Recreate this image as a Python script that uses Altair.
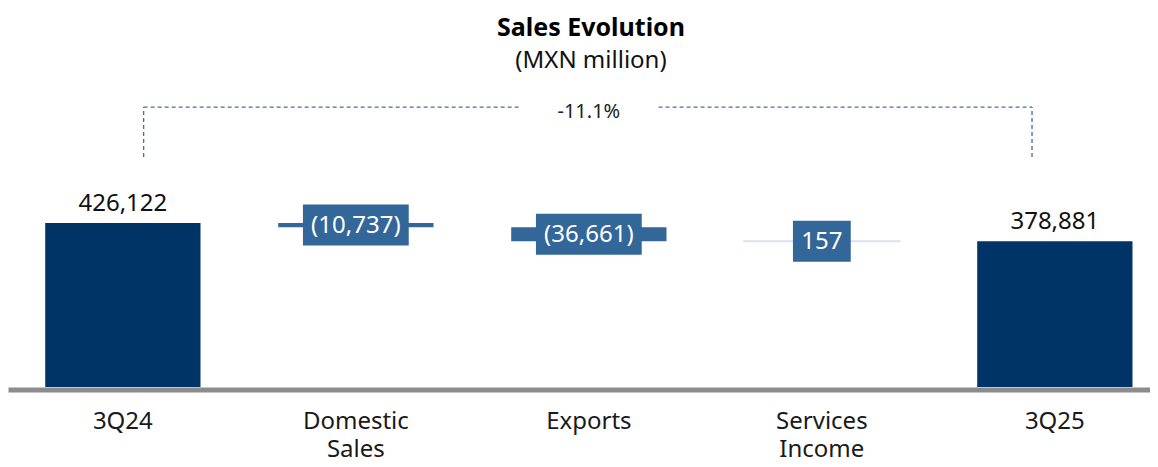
import altair as alt
import pandas as pd

categories = ["3Q24", "Domestic Sales", "Exports", "Services Income", "3Q25"]
values = [426122, -10737, -36661, 157, 378881]
kinds = ["total", "delta", "delta", "delta", "total"]

rows = []
running = 0
for c, v, k in zip(categories, values, kinds):
    if k == "total":
        start, end = 0, v
        running = v
        label = f"{v:,}"
    else:
        start, end = running, running + v
        running = end
        label = f"({abs(v):,})" if v < 0 else f"{v:,}"
    rows.append(dict(cat=c, delta=v, kind=k, start=start, end=end,
                     mid=(start + end) / 2, label=label))
df = pd.DataFrame(rows)

first, last = values[0], values[-1]
pct_label = f"{(last / first - 1) * 100:.1f}%"
peak = max(first, last)
bracket = pd.DataFrame([{
    "top": peak * 1.707, "low": peak * 1.402,
    "left": categories[0], "mid": categories[2], "right": categories[-1],
    "label": pct_label,
}])

FONT = "Noto Sans"
DARK = "#003366"
MIDB = "#336699"
LIGHT = "#d9e2ec"
DASH = "#4a6f96"

x_scale = alt.Scale(domain=categories, paddingInner=0.3335, paddingOuter=0.1174, align=0.68)
y_scale = alt.Scale(domain=[0, 761300], nice=False)

x_axis = alt.Axis(title=None, labelAngle=0, ticks=False, tickSize=0, labelFont=FONT,
                  labelFontSize=24, labelColor="#1a1a1a", labelPadding=20,
                  labelLineHeight=28, labelExpr="split(datum.label, ' ')",
                  domainColor="#8c8c8c", domainWidth=5, offset=2.5, grid=False)


def X(field, bp=None):
    if bp is None:
        return alt.X(f"{field}:N", scale=x_scale, sort=categories, axis=x_axis)
    return alt.X(f"{field}:N", scale=x_scale, sort=categories, axis=x_axis, bandPosition=bp)


def Y(field):
    return alt.Y(f"{field}:Q", scale=y_scale, axis=None)


base = alt.Chart(df)

totals = base.transform_filter("datum.kind == 'total'").mark_bar(color=DARK).encode(
    x=X("cat"), y=Y("end"), y2="start:Q")

deltas = base.transform_filter("datum.kind == 'delta'").mark_bar().encode(
    x=X("cat"), y=Y("end"), y2="start:Q",
    color=alt.condition("datum.delta > 0", alt.value(LIGHT), alt.value(MIDB)),
    stroke=alt.condition("datum.delta > 0", alt.value(LIGHT), alt.value(MIDB)),
    strokeWidth=alt.condition("abs(datum.delta) < 2000", alt.value(2), alt.value(0)),
)

boxes = base.transform_filter("datum.kind == 'delta'").transform_calculate(
    w="length(datum.label) * 9.6 + 29"
).mark_tick(thickness=41, opacity=1, color=MIDB).encode(
    x=X("cat"), y=Y("mid"), size=alt.Size("w:Q", scale=None, legend=None))

box_text = base.transform_filter("datum.kind == 'delta'").mark_text(
    font=FONT, fontSize=24, color="white", baseline="middle", dy=1).encode(
    x=X("cat"), y=Y("mid"), text="label:N")

total_text = base.transform_filter("datum.kind == 'total'").mark_text(
    font=FONT, fontSize=24, color="#111111", baseline="alphabetic", dy=-12).encode(
    x=X("cat"), y=Y("end"), text="label:N")

bch = alt.Chart(bracket)
rule_style = dict(color=DASH, strokeWidth=1.3, strokeDash=[4, 3])

lv = bch.mark_rule(**rule_style).encode(x=X("left", 0.634), y=Y("low"), y2="top:Q")
rv = bch.mark_rule(**rule_style).encode(x=X("right", 0.353), y=Y("low"), y2="top:Q")
lh = bch.mark_rule(**rule_style).encode(x=X("left", 0.634), x2=alt.X2("mid:N", bandPosition=0.067), y=Y("top"))
rh = bch.mark_rule(**rule_style).encode(x=X("mid", 0.949), x2=alt.X2("right:N", bandPosition=0.353), y=Y("top"))
pct_text = bch.mark_text(font=FONT, fontSize=20, color="#222222", baseline="middle", dy=5).encode(
    x=X("mid"), y=Y("top"), text="label:N")

chart = alt.layer(totals, deltas, boxes, box_text, total_text, lv, rv, lh, rh, pct_text).properties(
    width=1142, height=293,
    autosize=alt.AutoSizeParams(type="none"),
    padding={"left": 0, "top": 86, "right": 0, "bottom": 72},
    title=alt.TitleParams(text="Sales Evolution", subtitle="(MXN million)", font=FONT,
                          subtitleFont=FONT, fontSize=25, fontWeight="bold",
                          subtitleFontSize=24, color="#000000", subtitleColor="#111111",
                          anchor="middle", dx=12, offset=21, subtitlePadding=8),
).configure(background="white").configure_view(stroke=None)

chart.save("out.html", embed_options={"renderer": "svg", "actions": False})
